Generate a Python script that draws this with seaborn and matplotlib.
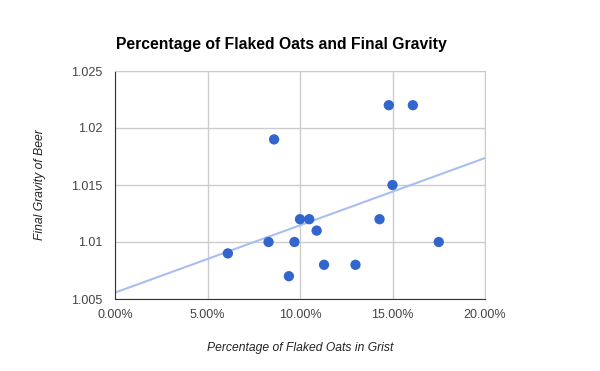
import numpy as np
import pandas as pd
import matplotlib
matplotlib.use("Agg")
import matplotlib.pyplot as plt
import seaborn as sns
from matplotlib.ticker import FuncFormatter

# Values
oats_pct = [0.061, 0.083, 0.086, 0.094, 0.097, 0.100, 0.105, 0.109,
            0.113, 0.130, 0.143, 0.148, 0.150, 0.161, 0.175]
final_gravity = [1.009, 1.010, 1.019, 1.007, 1.010, 1.012, 1.012, 1.011,
                 1.008, 1.008, 1.012, 1.022, 1.015, 1.022, 1.010]
x_ticks = [0.0, 0.05, 0.10, 0.15, 0.20]
y_ticks = [1.005, 1.01, 1.015, 1.02, 1.025]
y_tick_labels = ["1.005", "1.01", "1.015", "1.02", "1.025"]

df = pd.DataFrame({"oats": oats_pct, "fg": final_gravity})

sns.set_style("white")
plt.rcParams["font.family"] = ["Liberation Sans", "DejaVu Sans"]

fig = plt.figure(figsize=(6, 3.71), dpi=100)
ax = fig.add_axes([115 / 600, 1 - 299 / 371, 370 / 600, 228 / 371])
ax.set_xlim(0, 0.20)
ax.set_ylim(1.005, 1.025)

# trendline across full axis width
sns.regplot(data=df, x="oats", y="fg", ax=ax, scatter=False, ci=None,
            truncate=False, color="#a8bff0", line_kws={"linewidth": 1.5, "zorder": 2})
sns.scatterplot(data=df, x="oats", y="fg", ax=ax, color="#3366cc", s=55,
                edgecolor="none", zorder=3)

ax.set_xlim(0, 0.20)
ax.set_ylim(1.005, 1.025)
ax.set_xticks(x_ticks)
ax.set_yticks(y_ticks)
ax.set_yticklabels(y_tick_labels)
ax.xaxis.set_major_formatter(FuncFormatter(lambda v, p: f"{v * 100:.2f}%"))
ax.grid(True, color="#cccccc", linewidth=1)
ax.set_axisbelow(True)
ax.tick_params(axis="y", length=0, labelsize=9, colors="#444444", pad=9)
ax.tick_params(axis="x", length=0, labelsize=9, colors="#444444", pad=7)

for side in ["top", "right"]:
    ax.spines[side].set_color("#cccccc")
for side in ["left", "bottom"]:
    ax.spines[side].set_color("#333333")

ax.set_xlabel("Percentage of Flaked Oats in Grist", fontsize=8.7, style="italic",
              color="#222222", labelpad=15)
ax.set_ylabel("Final Gravity of Beer", fontsize=8.7, style="italic",
              color="#222222", labelpad=18)
fig.text(116 / 600, 1 - 45 / 371, "Percentage of Flaked Oats and Final Gravity",
         fontsize=11.3, fontweight="bold", color="black", ha="left", va="center")

fig.savefig("out.png", dpi=100)
